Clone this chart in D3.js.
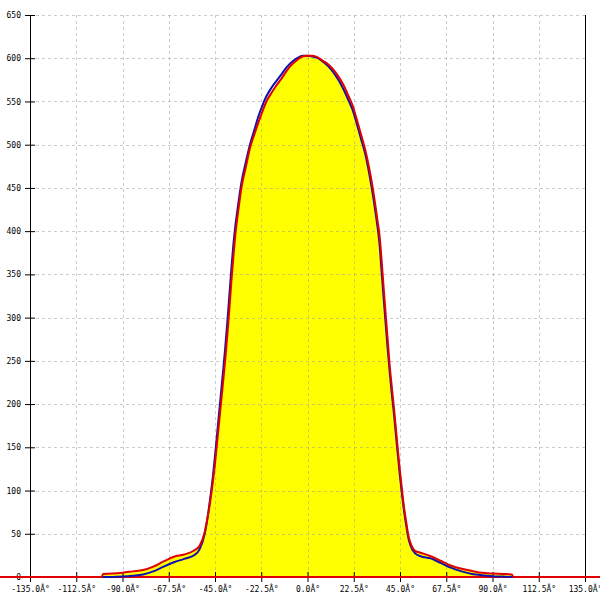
<!DOCTYPE html>
<html><head><meta charset="utf-8">
<script src="https://cdn.jsdelivr.net/npm/d3@7"></script>
<style>body{margin:0;background:#fff}svg{display:block}</style>
</head><body>
<svg id="chart" width="600" height="600"></svg>
<script>
const angles = [-100,-99.5,-95,-90,-85,-80,-75,-70,-65,-60,-55,
  -52.5,-50,-49,-48,-47,-46,-45,-44,-43,-42,-41,-40,-39,-38,-37,-36,-35,-34,-33,-32,
  -30,-28,-26,-24,-22,-20,-17.5,-15,-12.5,-10,-7.5,-5,-2.5,0,
  2.5,5,7.5,10,12.5,15,17.5,20,22,24,26,28,30,32,
  33,34,35,36,37,38,39,40,41,42,43,44,45,46,47,48,49,50,52.5,
  55,60,65,70,75,80,85,90,95,99.5,100];
const redValues = [0,3.5,4,5,6.5,8,12,18,23.5,26,31,
  36,52,64,77,93,111,131,155,179,203,227,252,280,310,343,372,398,418,436,452,
  474,496,511,525,538,550,560,569,577,586,593,598,602,603,
  603,601,597,593,587,579,569,556,545,529,512,495,473,446,
  430,413,396,368,336,305,275,244,220,197,172,146,122,100,80,64,49,40,30,
  28,24,18.5,13,9.5,7,4.8,4,3.5,3,0];
const blueValues = [0,0,0,0.5,1.5,3,6.5,12,17,21,25.5,
  32,50,63,79,97,117,140,165,190,215,240,266,295,326,358,386,408,426,443,458,
  480,500,516,532,545,556,566,574,582,590,596,600,603,603,
  602,600,596,591,584,575,564,551,540,524,507,490,467,439,
  423,406,386,355,324,294,264,237,212,190,165,140,116,95,76,60,46,37,27,
  24,21.5,16,10.5,6.5,3.5,2,1,0.5,0,0];
const xTicks = [-135,-112.5,-90,-67.5,-45,-22.5,0,22.5,45,67.5,90,112.5,135];
const xTickLabels = ["-135.0Â°","-112.5Â°","-90.0Â°","-67.5Â°","-45.0Â°","-22.5Â°","0.0Â°","22.5Â°","45.0Â°","67.5Â°","90.0Â°","112.5Â°","135.0Â°"];
const yTicks = [0,50,100,150,200,250,300,350,400,450,500,550,600,650];

const svg = d3.select("#chart");
const L = 30, R = 585, T = 15, B = 577;
const x = d3.scaleLinear().domain([-135,135]).range([L,R]);
const y = d3.scaleLinear().domain([0,650]).range([B,T]);

const red = angles.map((a,i)=>[a,redValues[i]]);
const blue = angles.map((a,i)=>[a,blueValues[i]]);

// fill
svg.append("path").datum(red)
  .attr("fill","#ffff00")
  .attr("d", d3.area().x(d=>x(d[0])).y0(y(0)).y1(d=>y(d[1])).curve(d3.curveMonotoneX));

// grid
const grid = svg.append("g").attr("stroke","#999").attr("stroke-opacity",0.5).attr("stroke-dasharray","3,3").attr("stroke-width",1);
grid.selectAll(".gx").data(xTicks.filter(t=>t!==-135 && t!==135)).enter().append("line")
  .attr("x1",d=>Math.round(x(d))+0.5).attr("x2",d=>Math.round(x(d))+0.5).attr("y1",T).attr("y2",B);
grid.selectAll(".gy").data(yTicks.filter(t=>t!==0)).enter().append("line")
  .attr("x1",L).attr("x2",R).attr("y1",d=>Math.round(y(d))+0.5).attr("y2",d=>Math.round(y(d))+0.5);

// right border
svg.append("line").attr("x1",Math.round(R)+0.5).attr("x2",Math.round(R)+0.5).attr("y1",T).attr("y2",B).attr("stroke","#000");

// axes
const xAxis = d3.axisBottom(x).tickValues(xTicks).tickSize(0).tickFormat((d,i)=>xTickLabels[i]);
const gx = svg.append("g").attr("transform",`translate(0,${B})`).call(xAxis);
gx.select(".domain").remove();
gx.selectAll(".tick").append("line").attr("y1",-5).attr("y2",5).attr("stroke","#000");
gx.selectAll("text").attr("y",9).attr("dy","0.71em").attr("font-family","DejaVu Sans Mono").attr("font-size","8px").attr("fill","#000");

const yAxis = d3.axisLeft(y).tickValues(yTicks).tickSize(0).tickFormat(d3.format("d"));
const gy = svg.append("g").attr("transform",`translate(${L},0)`).call(yAxis);
gy.select(".domain").attr("stroke","#000").attr("d",`M0.5,${T}V${B+5}`);
gy.selectAll(".tick").append("line").attr("x1",-5).attr("x2",5).attr("stroke","#000");
gy.selectAll("text").attr("x",-9).attr("font-family","DejaVu Sans Mono").attr("font-size","8px").attr("fill","#000");

// baseline red
svg.append("line").attr("x1",0).attr("x2",600).attr("y1",y(0)).attr("y2",y(0)).attr("stroke","#e00000").attr("stroke-width",2);

// curves
const line = d3.line().x(d=>x(d[0])).y(d=>y(d[1])).curve(d3.curveMonotoneX);
svg.append("path").datum(blue).attr("fill","none").attr("stroke","#1010b0").attr("stroke-width",2).attr("d",line);
svg.append("path").datum(red).attr("fill","none").attr("stroke","#e00000").attr("stroke-width",2).attr("d",line);
</script>
</body></html>
